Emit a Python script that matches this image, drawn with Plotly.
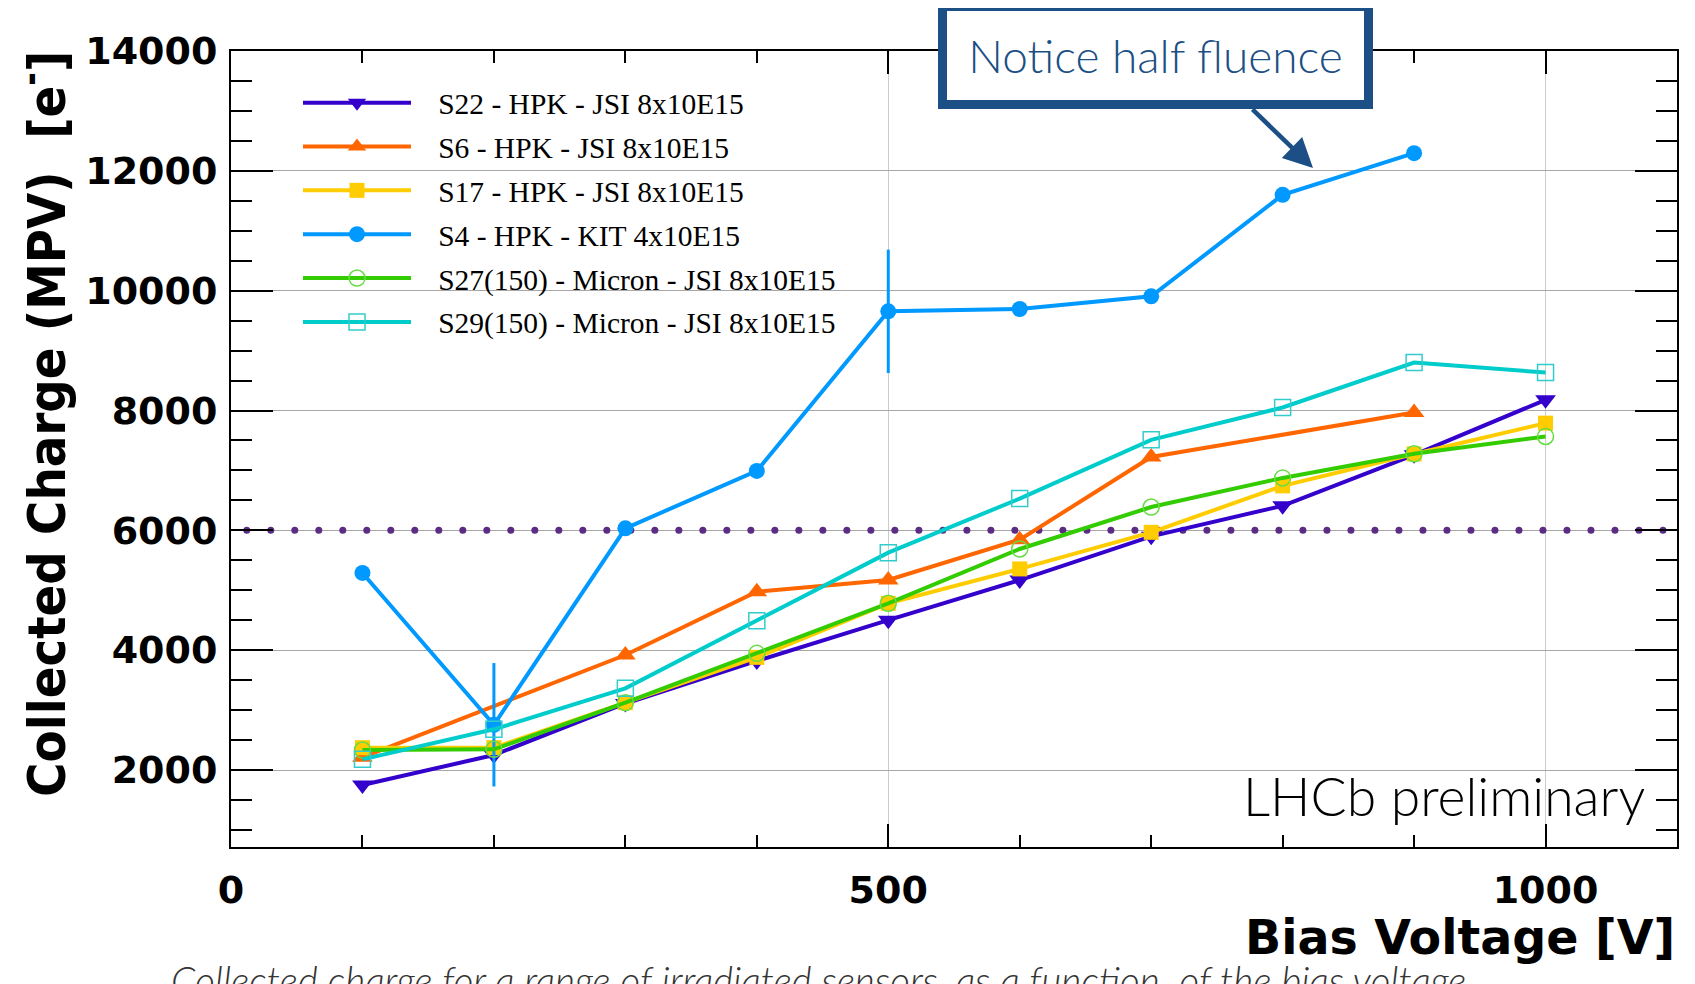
import numpy as np
import plotly.graph_objects as go

# ---------------- data ----------------
bias_v = [100, 200, 300, 400, 500, 600, 700, 800, 900, 1000]

s22 = [1750, 2250, 3110, 3820, 4500, 5170, 5900, 6410, 7260, 8178]
s6 = [2211, None, 3919, 4976, 5171, 5844, 7225, None, 7967, None]
s17 = [2372, 2373, 3124, 3880, 4782, 5356, 5967, 6742, 7275, 7789]
s4 = [5289, 2755, 6034, 6992, 9655, 9694, 9905, 11599, 12295, None]
s4_err = [0, 1030, 0, 0, 1030, 0, 0, 0, 0, 0]
s27 = [2333, 2345, 3124, 3947, 4782, 5689, 6389, 6875, 7278, 7567]
s29 = [2178, 2679, 3363, 4492, 5627, 6530, 7511, 8050, 8801, 8633]

names = [
    "S22 - HPK - JSI 8x10E15",
    "S6 - HPK - JSI 8x10E15",
    "S17 - HPK - JSI 8x10E15",
    "S4 - HPK - KIT 4x10E15",
    "S27(150) - Micron - JSI 8x10E15",
    "S29(150) - Micron - JSI 8x10E15",
]
threshold = 6000

x_ticks = [0, 500, 1000]
y_ticks = [2000, 4000, 6000, 8000, 10000, 12000, 14000]

# ---------------- layout geometry ----------------
W, H = 1695, 984
OFF = 8  # page body margin of the html page
# plot frame in page pixels
P_L, P_R, P_T, P_B = 231, 1677, 51, 847.5
ML, MT = P_L - OFF, P_T - OFF
MR = W - (P_R - OFF)
MB = H - (P_B - OFF)
PW, PH = P_R - P_L, P_B - P_T


def px_x(p):
    return (p - P_L) / PW


def px_y(p):
    return (P_B - p) / PH


series = [
    (s22, names[0], "#3300cc", dict(symbol="triangle-down", size=18, color="#3300cc")),
    (s6, names[1], "#ff6600", dict(symbol="triangle-up", size=18, color="#ff6600")),
    (s17, names[2], "#ffcc00", dict(symbol="square", size=15, color="#ffcc00")),
    (s4, names[3], "#0099ff", dict(symbol="circle", size=16, color="#0099ff")),
    (s27, names[4], "#33cc00", dict(symbol="circle-open", size=16, color="#66dd44", line=dict(width=1.5))),
    (s29, names[5], "#00cccc", dict(symbol="square-open", size=16, color="#33cccc", line=dict(width=1.5))),
]

fig = go.Figure()

# dotted threshold line (drawn first, below curves)
dot_x = np.arange(12, 1116, 18.26)
fig.add_trace(go.Scatter(
    x=dot_x, y=[threshold] * len(dot_x), mode="markers",
    marker=dict(size=7, color="#5a2d82"), cliponaxis=False,
    showlegend=False, hoverinfo="skip"))

PAD = "\u00a0\u00a0\u00a0"
for i, (vals, name, col, mk) in enumerate(series):
    kw = {}
    if name.startswith("S4 "):
        kw["error_y"] = dict(type="data", array=s4_err, visible=True,
                             thickness=3, width=0, color=col)
    fig.add_trace(go.Scatter(
        x=bias_v, y=vals, name=PAD + name, mode="lines+markers",
        line=dict(color=col, width=4), marker=mk,
        connectgaps=True, legendgroup="g%d" % i, **kw))

axis_common = dict(
    showline=True, linecolor="black", linewidth=2, mirror="allticks",
    ticks="inside", tickcolor="black", tickwidth=2, zeroline=False,
    tickfont=dict(family="DejaVu Sans", size=38, color="black", weight="bold"),
)

fig.update_xaxes(
    range=[0, 1100], tickmode="array", tickvals=x_ticks,
    ticktext=[str(v) for v in x_ticks], ticklen=23,
    showgrid=True, gridcolor="#cccccc", gridwidth=1,
    minor=dict(dtick=100, tick0=0, ticklen=12, tickwidth=2, tickcolor="black",
               ticks="inside", showgrid=False),
    ticklabelstandoff=8, **axis_common)

fig.update_yaxes(
    range=[715, 14000], tickmode="array", tickvals=y_ticks,
    ticktext=[str(v) for v in y_ticks], ticklen=42,
    showgrid=True, gridcolor="#a8a8a8", gridwidth=1,
    minor=dict(dtick=500, tick0=0, ticklen=21, tickwidth=2, tickcolor="black",
               ticks="inside", showgrid=False),
    ticklabelstandoff=4, **axis_common)

annotations = [
    # y title
    dict(text="Collected Charge (MPV)  [e<sup>-</sup>]", xref="paper", yref="paper",
         x=px_x(43), y=px_y(424), xanchor="center", yanchor="middle", textangle=-90,
         showarrow=False,
         font=dict(family="DejaVu Sans Condensed", size=52,
                   color="black", weight="bold")),
    # x title
    dict(text="Bias Voltage [V]", xref="paper", yref="paper",
         x=1.0, y=px_y(938), xanchor="right", yanchor="middle", showarrow=False,
         font=dict(family="DejaVu Sans", size=47.5, color="black", weight="bold")),
    # LHCb
    dict(text="LHCb preliminary", xref="paper", yref="paper",
         x=px_x(1647), y=px_y(795), xanchor="right", yanchor="middle", showarrow=False,
         font=dict(family="Lato", size=53.5, color="black", weight=300)),
    # caption
    dict(text="Collected charge for a range of irradiated sensors, as a function  of the bias voltage",
         xref="paper", yref="paper", x=px_x(169), y=px_y(981), xanchor="left",
         yanchor="middle", showarrow=False,
         font=dict(family="Lato", size=38.8, color="#333333", weight=300, style="italic")),
    # arrow
    dict(text="", xref="paper", yref="paper", x=px_x(1313), y=px_y(168),
         ax=-62, ay=-60, showarrow=True, arrowhead=2, arrowsize=1.3,
         arrowwidth=4.5, arrowcolor="#1b4f85", standoff=0),
    # callout box
    dict(text="Notice half fluence", xref="paper", yref="paper",
         x=px_x(1155), y=px_y(56), xanchor="center", yanchor="middle", showarrow=False,
         width=395, height=67, borderpad=11, borderwidth=9,
         bordercolor="#1b4f85", bgcolor="white",
         font=dict(family="Lato", size=46, color="#1b4f85", weight=300)),
]

fig.update_layout(
    width=W, height=H,
    margin=dict(l=ML, r=MR, t=MT, b=MB, pad=0),
    paper_bgcolor="white", plot_bgcolor="white",
    annotations=annotations,
    showlegend=True,
    legend=dict(
        x=px_x(298), y=px_y(77), xanchor="left", yanchor="top",
        bgcolor="rgba(0,0,0,0)", borderwidth=0,
        itemwidth=108, tracegroupgap=2.5,
        font=dict(family="Liberation Serif", size=29.5, color="black"),
    ),
)

fig.write_html("out.html")
